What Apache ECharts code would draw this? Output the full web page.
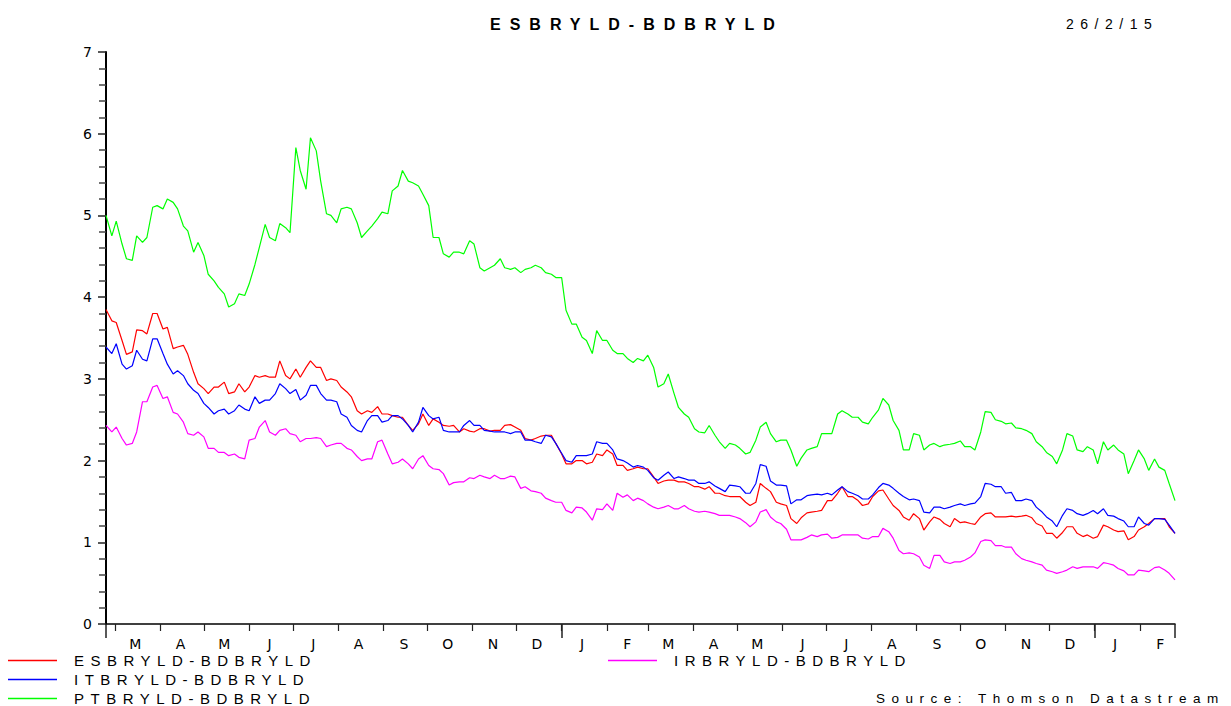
<!DOCTYPE html>
<html>
<head>
<meta charset="utf-8">
<title>ESBRYLD-BDBRYLD</title>
<script src="https://cdn.jsdelivr.net/npm/echarts@6/dist/echarts.min.js"></script>
<style>
html, body { margin: 0; padding: 0; background: #fff; }
#chart { width: 1231px; height: 706px; }
/* datastream print uses wide lettering */
#chart text[style*="Liberation"] { letter-spacing: 6.5px; }
#chart text[style*="bold"] { letter-spacing: 9px; }
</style>
</head>
<body>
<div id="chart"></div>
<script>
// spread vs bund, twice-weekly readings from 23/2/13 to 26/2/15
var startDate = Date.UTC(2013, 1, 23);
var nDays = 733;
var step = 3.5;
var monthLetters = ['J', 'F', 'M', 'A', 'M', 'J', 'J', 'A', 'S', 'O', 'N', 'D'];

var es = [3.85, 3.71, 3.69, 3.47, 3.3, 3.33, 3.6, 3.59, 3.55, 3.8, 3.8, 3.61, 3.63, 3.37, 3.39, 3.41, 3.3, 3.08, 2.94, 2.88,
    2.82, 2.9, 2.9, 2.96, 2.82, 2.84, 2.94, 2.84, 2.9, 3.04, 3.02, 3.04, 3.02, 3.02, 3.22, 3.04, 3.0, 3.12, 3.02, 3.14,
    3.22, 3.14, 3.14, 2.98, 3.0, 2.98, 2.9, 2.84, 2.78, 2.61, 2.57, 2.61, 2.59, 2.66, 2.57, 2.57, 2.55, 2.53, 2.53, 2.43,
    2.37, 2.45, 2.57, 2.43, 2.51, 2.47, 2.43, 2.42, 2.43, 2.35, 2.39, 2.36, 2.35, 2.39, 2.39, 2.36, 2.37, 2.37, 2.43, 2.44,
    2.41, 2.37, 2.27, 2.25, 2.27, 2.3, 2.31, 2.31, 2.21, 2.08, 1.96, 1.96, 2.0, 2.0, 1.96, 1.98, 2.08, 2.06, 2.13, 2.08,
    1.94, 1.94, 1.88, 1.9, 1.92, 1.9, 1.9, 1.8, 1.72, 1.75, 1.76, 1.76, 1.74, 1.74, 1.72, 1.68, 1.68, 1.65, 1.68, 1.6,
    1.6, 1.57, 1.56, 1.56, 1.56, 1.49, 1.45, 1.49, 1.72, 1.66, 1.62, 1.49, 1.47, 1.45, 1.29, 1.23, 1.3, 1.36, 1.37, 1.38,
    1.39, 1.51, 1.51, 1.6, 1.68, 1.56, 1.56, 1.51, 1.45, 1.47, 1.56, 1.63, 1.64, 1.53, 1.45, 1.39, 1.31, 1.27, 1.35, 1.29,
    1.15, 1.25, 1.31, 1.28, 1.23, 1.19, 1.29, 1.24, 1.25, 1.23, 1.22, 1.31, 1.35, 1.36, 1.31, 1.31, 1.31, 1.32, 1.31, 1.32,
    1.33, 1.3, 1.23, 1.2, 1.11, 1.11, 1.05, 1.12, 1.19, 1.19, 1.11, 1.07, 1.09, 1.05, 1.07, 1.21, 1.19, 1.15, 1.13, 1.14,
    1.03, 1.07, 1.15, 1.19, 1.23, 1.29, 1.29, 1.29, 1.19, 1.11];
var it = [3.39, 3.31, 3.43, 3.18, 3.12, 3.16, 3.35, 3.24, 3.22, 3.49, 3.49, 3.31, 3.18, 3.06, 3.1, 3.04, 2.94, 2.86, 2.82, 2.7,
    2.65, 2.57, 2.61, 2.63, 2.57, 2.61, 2.68, 2.63, 2.61, 2.78, 2.7, 2.74, 2.74, 2.82, 2.94, 2.88, 2.82, 2.87, 2.74, 2.8,
    2.92, 2.92, 2.82, 2.74, 2.74, 2.72, 2.57, 2.53, 2.43, 2.37, 2.35, 2.49, 2.55, 2.55, 2.47, 2.49, 2.55, 2.55, 2.51, 2.43,
    2.35, 2.47, 2.65, 2.55, 2.51, 2.53, 2.37, 2.35, 2.35, 2.35, 2.43, 2.49, 2.43, 2.43, 2.37, 2.36, 2.35, 2.35, 2.35, 2.33,
    2.35, 2.35, 2.25, 2.25, 2.23, 2.21, 2.31, 2.29, 2.21, 2.09, 2.0, 1.98, 2.06, 2.06, 2.06, 2.08, 2.23, 2.21, 2.21, 2.13,
    2.02, 2.0, 1.97, 1.92, 1.94, 1.92, 1.88, 1.79, 1.76, 1.82, 1.86, 1.78, 1.8, 1.78, 1.76, 1.76, 1.72, 1.72, 1.74, 1.69,
    1.66, 1.62, 1.7, 1.69, 1.68, 1.6, 1.6, 1.72, 1.95, 1.93, 1.75, 1.7, 1.7, 1.69, 1.47, 1.52, 1.52, 1.57, 1.58, 1.59,
    1.58, 1.6, 1.58, 1.64, 1.68, 1.62, 1.6, 1.57, 1.53, 1.53, 1.58, 1.67, 1.72, 1.7, 1.66, 1.6, 1.56, 1.52, 1.53, 1.51,
    1.37, 1.36, 1.43, 1.43, 1.41, 1.43, 1.45, 1.47, 1.45, 1.47, 1.48, 1.56, 1.72, 1.71, 1.68, 1.68, 1.6, 1.61, 1.51, 1.51,
    1.53, 1.51, 1.43, 1.37, 1.31, 1.26, 1.19, 1.33, 1.41, 1.39, 1.35, 1.33, 1.35, 1.39, 1.35, 1.41, 1.33, 1.32, 1.29, 1.26,
    1.19, 1.19, 1.31, 1.23, 1.21, 1.29, 1.29, 1.28, 1.21, 1.11];
var pt = [5.0, 4.75, 4.93, 4.65, 4.47, 4.45, 4.75, 4.67, 4.73, 5.1, 5.12, 5.08, 5.2, 5.16, 5.08, 4.87, 4.81, 4.55, 4.67, 4.51,
    4.28, 4.2, 4.12, 4.04, 3.88, 3.92, 4.04, 4.02, 4.16, 4.4, 4.61, 4.89, 4.73, 4.69, 4.9, 4.85, 4.79, 5.83, 5.55, 5.32,
    5.95, 5.79, 5.42, 5.02, 5.0, 4.91, 5.08, 5.1, 5.08, 4.91, 4.73, 4.81, 4.87, 4.96, 5.04, 5.02, 5.3, 5.36, 5.55, 5.42,
    5.4, 5.36, 5.26, 5.12, 4.73, 4.73, 4.53, 4.49, 4.55, 4.55, 4.53, 4.69, 4.65, 4.36, 4.32, 4.36, 4.39, 4.47, 4.36, 4.34,
    4.36, 4.3, 4.34, 4.36, 4.39, 4.36, 4.3, 4.28, 4.24, 4.24, 3.84, 3.67, 3.67, 3.51, 3.47, 3.31, 3.59, 3.47, 3.47, 3.35,
    3.31, 3.31, 3.25, 3.2, 3.25, 3.22, 3.29, 3.14, 2.9, 2.94, 3.06, 2.82, 2.65, 2.57, 2.53, 2.39, 2.35, 2.34, 2.43, 2.31,
    2.23, 2.15, 2.21, 2.19, 2.15, 2.08, 2.1, 2.25, 2.41, 2.47, 2.33, 2.23, 2.25, 2.25, 2.13, 1.93, 2.03, 2.13, 2.15, 2.17,
    2.33, 2.33, 2.33, 2.57, 2.61, 2.57, 2.53, 2.53, 2.47, 2.45, 2.53, 2.62, 2.76, 2.68, 2.49, 2.37, 2.13, 2.13, 2.33, 2.31,
    2.13, 2.19, 2.21, 2.17, 2.19, 2.2, 2.21, 2.24, 2.17, 2.17, 2.13, 2.35, 2.6, 2.59, 2.5, 2.48, 2.45, 2.46, 2.4, 2.39,
    2.37, 2.33, 2.23, 2.17, 2.1, 2.05, 1.96, 2.13, 2.33, 2.3, 2.13, 2.11, 2.17, 2.13, 1.96, 2.23, 2.13, 2.19, 2.13, 2.08,
    1.84, 2.0, 2.13, 2.02, 1.88, 2.02, 1.92, 1.88, 1.72, 1.51];
var ir = [2.43, 2.35, 2.41, 2.27, 2.19, 2.21, 2.35, 2.72, 2.72, 2.9, 2.92, 2.76, 2.78, 2.59, 2.57, 2.47, 2.33, 2.31, 2.35, 2.29,
    2.15, 2.15, 2.1, 2.1, 2.06, 2.08, 2.04, 2.02, 2.25, 2.27, 2.41, 2.49, 2.35, 2.31, 2.37, 2.39, 2.33, 2.31, 2.23, 2.27,
    2.27, 2.28, 2.27, 2.17, 2.19, 2.21, 2.21, 2.15, 2.13, 2.05, 2.0, 2.02, 2.02, 2.23, 2.25, 2.08, 1.96, 1.98, 2.02, 1.96,
    1.9, 2.02, 2.06, 1.94, 1.9, 1.89, 1.84, 1.7, 1.73, 1.74, 1.74, 1.79, 1.78, 1.82, 1.8, 1.78, 1.82, 1.78, 1.78, 1.81,
    1.8, 1.66, 1.68, 1.63, 1.62, 1.6, 1.54, 1.51, 1.49, 1.49, 1.39, 1.36, 1.43, 1.42, 1.37, 1.27, 1.41, 1.4, 1.47, 1.39,
    1.6, 1.55, 1.58, 1.51, 1.54, 1.51, 1.47, 1.43, 1.41, 1.43, 1.45, 1.41, 1.41, 1.45, 1.41, 1.38, 1.37, 1.38, 1.37, 1.35,
    1.33, 1.33, 1.33, 1.31, 1.29, 1.24, 1.19, 1.25, 1.37, 1.4, 1.31, 1.25, 1.23, 1.16, 1.03, 1.03, 1.03, 1.06, 1.09, 1.07,
    1.09, 1.1, 1.05, 1.06, 1.09, 1.09, 1.09, 1.09, 1.05, 1.04, 1.07, 1.07, 1.17, 1.13, 1.05, 0.9, 0.86, 0.87, 0.86, 0.82,
    0.72, 0.68, 0.84, 0.84, 0.76, 0.74, 0.76, 0.76, 0.78, 0.82, 0.87, 1.01, 1.03, 1.02, 0.96, 0.96, 0.94, 0.94, 0.86, 0.8,
    0.78, 0.76, 0.74, 0.72, 0.66, 0.64, 0.62, 0.64, 0.66, 0.7, 0.68, 0.7, 0.7, 0.7, 0.68, 0.75, 0.74, 0.72, 0.68, 0.65,
    0.6, 0.6, 0.66, 0.65, 0.64, 0.69, 0.7, 0.66, 0.62, 0.54];

var names = ['ESBRYLD-BDBRYLD', 'ITBRYLD-BDBRYLD', 'PTBRYLD-BDBRYLD', 'IRBRYLD-BDBRYLD'];
var colors = ['#ff0000', '#0000ff', '#00ff00', '#ff00ff'];

//日期轴
var days = [];
for (var d = 0; d < nDays; d++) {
    days.push(new Date(startDate + d * 86400000).toISOString().slice(0, 10));
}
function dayOf(s) { return +s.slice(8, 10); }
function monthOf(s) { return +s.slice(5, 7) - 1; }
function toPoints(vals) {
    return vals.map(function (v, i) { return [Math.min(Math.round(i * step), nDays - 1), v]; });
}

var dom = document.getElementById('chart');
var myChart = echarts.init(dom, null, { renderer: 'svg' });

var spacedFont = 'Liberation Sans';
var axisFont = 'DejaVu Sans';

// one legend per row, like the printed key
var legendPos = [[8, 653], [8, 672], [8, 691], [608, 653]];
var legends = names.map(function (n, k) {
    return {
        left: legendPos[k][0], top: legendPos[k][1], padding: 0,
        selectedMode: false, icon: 'rect', itemWidth: 49, itemHeight: 1.5,
        data: [n],
        textStyle: { fontFamily: spacedFont, fontSize: 15, color: '#000', lineHeight: 15, padding: [0, 0, 0, 12] }
    };
});

var option = {
    animation: false,
    backgroundColor: '#ffffff',
    title: {
        text: 'ESBRYLD-BDBRYLD',
        left: 485,
        top: 11,
        textStyle: { fontFamily: spacedFont, fontWeight: 'bold', fontSize: 16, color: '#000' }
    },
    graphic: [
        { type: 'text', left: 1066, top: 17, style: { text: '26/2/15', fontFamily: spacedFont, fontSize: 14, fill: '#000' } },
        { type: 'text', left: 876, top: 691, style: { text: 'Source: Thomson Datastream', fontFamily: spacedFont, fontSize: 13.5, fill: '#000' } }
    ],
    legend: legends,
    grid: { left: 106, right: 56, top: 52, bottom: 82 },
    xAxis: [
        {
            type: 'category',
            data: days,
            boundaryGap: false,
            position: 'bottom',
            axisLine: { lineStyle: { color: '#000', width: 1.5 } },
            axisTick: {
                length: 7,
                lineStyle: { color: '#222', width: 1.2 },
                interval: function (idx, val) { return dayOf(val) === 1; }
            },
            axisLabel: {
                margin: 13,
                fontFamily: axisFont,
                fontSize: 14,
                color: '#000',
                interval: function (idx, val) { return dayOf(val) === 15; },
                formatter: function (val) { return monthLetters[monthOf(val)]; }
            },
            splitLine: { show: false }
        },
        {
            // longer year ticks
            type: 'category',
            data: days,
            boundaryGap: false,
            position: 'bottom',
            offset: 0,
            axisLine: { show: false },
            axisTick: {
                length: 14,
                lineStyle: { color: '#222', width: 1.5 },
                interval: function (idx, val) {
                    return idx === 0 || idx === nDays - 1 || (dayOf(val) === 1 && monthOf(val) === 0);
                }
            },
            axisLabel: { show: false },
            splitLine: { show: false }
        }
    ],
    yAxis: {
        type: 'value',
        min: 0,
        max: 7,
        interval: 1,
        axisLine: { show: true, lineStyle: { color: '#000', width: 2 } },
        axisTick: { show: true, length: 8, lineStyle: { color: '#222', width: 1.5 } },
        minorTick: { show: true, splitNumber: 5, length: 7, lineStyle: { color: '#444', width: 1.5 } },
        axisLabel: {
            margin: 14,
            fontFamily: axisFont,
            fontSize: 14,
            color: '#000',
            padding: [0, 0, 7, 0]
        },
        splitLine: { show: false },
        minorSplitLine: { show: false }
    },
    series: [es, it, pt, ir].map(function (vals, k) {
        return {
            name: names[k],
            type: 'line',
            xAxisIndex: 0,
            data: toPoints(vals),
            showSymbol: false,
            symbol: 'none',
            itemStyle: { color: colors[k] },
            lineStyle: { color: colors[k], width: 1.2 }
        };
    })
};

myChart.setOption(option);
</script>
</body>
</html>
